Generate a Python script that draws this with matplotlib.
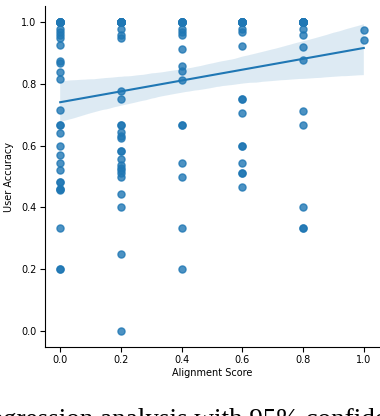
import numpy as np
import pandas as pd
import matplotlib
matplotlib.use("Agg")
from matplotlib import pyplot as plt
import seaborn as sns

# ocene uskladjenosti (x) i tacnost korisnika (y), po kolonama
acc_00 = [1.0] * 10 + [0.98, 0.97, 0.96, 0.95, 0.926, 0.875, 0.867, 0.84, 0.815,
          0.715, 0.667, 0.667, 0.64, 0.6, 0.571, 0.545, 0.52, 0.483, 0.483,
          0.46, 0.46, 0.455, 0.333, 0.2, 0.2]
acc_02 = [1.0] * 16 + [0.98, 0.96, 0.95, 0.778, 0.75, 0.667, 0.667, 0.643, 0.63,
          0.625, 0.583, 0.583, 0.556, 0.538, 0.529, 0.52, 0.51, 0.5, 0.444,
          0.4, 0.25, 0.0]
acc_04 = [1.0] * 8 + [0.98, 0.97, 0.96, 0.912, 0.857, 0.842, 0.812, 0.667,
          0.667, 0.545, 0.5, 0.333, 0.2]
acc_06 = [1.0] * 12 + [0.98, 0.97, 0.923, 0.75, 0.75, 0.706, 0.6, 0.6, 0.545,
          0.51, 0.51, 0.467]
acc_08 = [1.0] * 14 + [0.98, 0.96, 0.92, 0.878, 0.714, 0.667, 0.4, 0.333, 0.333]
acc_10 = [0.975, 0.944]

scores = [0.0, 0.2, 0.4, 0.6, 0.8, 1.0]
columns = [acc_00, acc_02, acc_04, acc_06, acc_08, acc_10]

df = pd.DataFrame({
    "Alignment Score": np.concatenate([[s] * len(c) for s, c in zip(scores, columns)]),
    "User Accuracy": np.concatenate(columns),
})

fig = plt.figure(figsize=(3.8, 4.16), dpi=100)
ax = fig.add_axes([45 / 380, 1 - 347 / 416, 334 / 380, 341 / 416])

sns.regplot(data=df, x="Alignment Score", y="User Accuracy", ax=ax, seed=0,
            color="#1f77b4", scatter_kws={"s": 26}, line_kws={"lw": 1.5})

ax.set_xlim(-0.05, 1.05)
ax.set_ylim(-0.0525, 1.053)
ax.set_xticks(scores)
ax.set_yticks([0.0, 0.2, 0.4, 0.6, 0.8, 1.0])
ax.tick_params(labelsize=7, pad=2.5)
ax.set_xlabel("Alignment Score", fontsize=7)
ax.set_ylabel("User Accuracy", fontsize=7)
ax.xaxis.set_label_coords(0.5, -0.062)
ax.yaxis.set_label_coords(-0.093, 0.5)
sns.despine(ax=ax)

# odseceni potpis ispod slike (u originalu se vidi samo gornji deo)
fig.text(-18 / 380, -11 / 416, "regression analysis with 95% confidence",
         family="Liberation Serif", fontsize=19.5, ha="left", va="baseline")

plt.savefig("out.png", dpi=100)
